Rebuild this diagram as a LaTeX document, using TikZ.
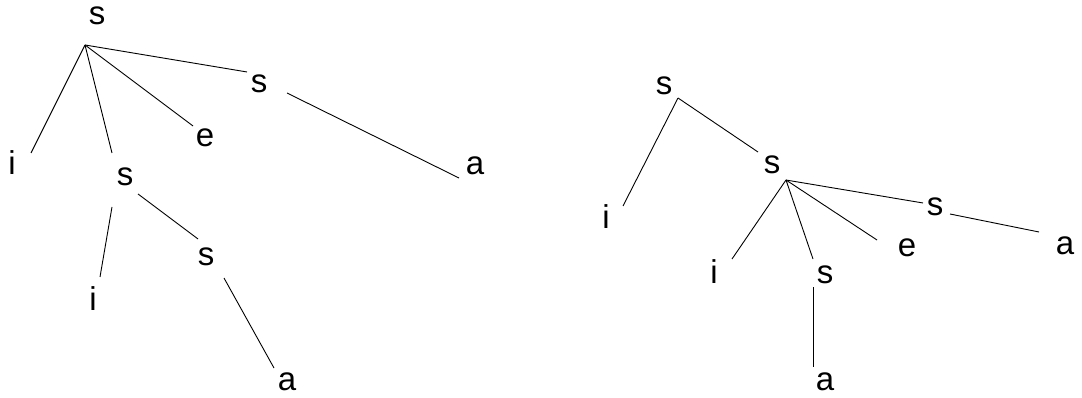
\documentclass[tikz,border=0pt]{standalone}
\usepackage{fontspec}
\setmainfont{Liberation Sans}
\begin{document}
\begin{tikzpicture}[x=1pt,y=-1pt,
  lbl/.style={inner sep=0pt,font=\fontsize{33}{35}\selectfont},
  edge/.style={draw=black,line width=0.9pt}]
\useasboundingbox (0,0) rectangle (1082,398);
% ---- left tree ----
\node[lbl] (L0) at (97,16) {s};
\node[lbl] (L1) at (12,163) {i};
\node[lbl] (L2) at (125,177) {s};
\node[lbl] (L3) at (205,138) {e};
\node[lbl] (L4) at (259,84) {s};
\node[lbl] (L5) at (475,166) {a};
\node[lbl] (L6) at (93,299) {i};
\node[lbl] (L7) at (206,257) {s};
\node[lbl] (L8) at (287,382) {a};
\coordinate (L0h) at (85,45);
\coordinate (L1e) at (31,153);
\coordinate (L2e) at (112,153);
\coordinate (L3e) at (193,126);
\coordinate (L4e) at (247,72);
\coordinate (L4s) at (287,93);
\coordinate (L5e) at (459,178);
\coordinate (L2s1) at (112,207);
\coordinate (L6e) at (100,277);
\coordinate (L2s2) at (138,194);
\coordinate (L7e) at (198,239);
\coordinate (L7s) at (224,278);
\coordinate (L8e) at (274,368);
\draw[edge] (L0h) -- (L1e);
\draw[edge] (L0h) -- (L2e);
\draw[edge] (L0h) -- (L3e);
\draw[edge] (L0h) -- (L4e);
\draw[edge] (L4s) -- (L5e);
\draw[edge] (L2s1) -- (L6e);
\draw[edge] (L2s2) -- (L7e);
\draw[edge] (L7s) -- (L8e);
% ---- right tree ----
\node[lbl] (R0) at (664,86) {s};
\node[lbl] (R1) at (606,217) {i};
\node[lbl] (R2) at (772,165) {s};
\node[lbl] (R3) at (714,272) {i};
\node[lbl] (R4) at (825,275) {s};
\node[lbl] (R5) at (907,248) {e};
\node[lbl] (R6) at (935,207) {s};
\node[lbl] (R7) at (1065,246) {a};
\node[lbl] (R8) at (825,382) {a};
\coordinate (R0h) at (678,98);
\coordinate (R1e) at (623,206);
\coordinate (R2e) at (758,152);
\coordinate (R2h) at (786,180);
\coordinate (R3e) at (732,259);
\coordinate (R4e) at (813,259);
\coordinate (R5e) at (877,240);
\coordinate (R6e) at (923,203);
\coordinate (R6s) at (950,214);
\coordinate (R7e) at (1039,232);
\coordinate (R4s) at (813,287);
\coordinate (R8e) at (813,367);
\draw[edge] (R0h) -- (R1e);
\draw[edge] (R0h) -- (R2e);
\draw[edge] (R2h) -- (R3e);
\draw[edge] (R2h) -- (R4e);
\draw[edge] (R2h) -- (R5e);
\draw[edge] (R2h) -- (R6e);
\draw[edge] (R6s) -- (R7e);
\draw[edge] (R4s) -- (R8e);
\end{tikzpicture}
\end{document}
